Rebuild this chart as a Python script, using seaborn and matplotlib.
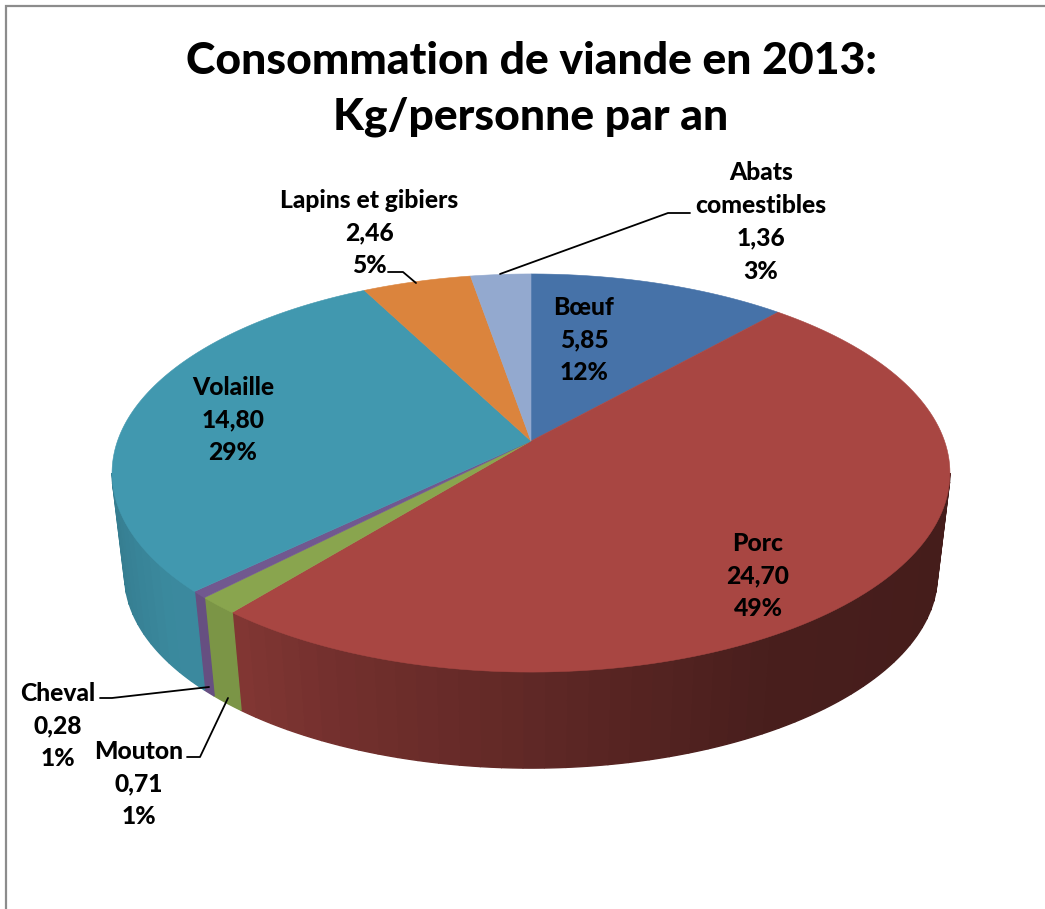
import numpy as np
import matplotlib
matplotlib.use("Agg")
import matplotlib.pyplot as plt
from matplotlib.path import Path
from matplotlib.transforms import Transform, Affine2D
import seaborn as sns

categories = ["Bœuf", "Porc", "Mouton", "Cheval", "Volaille", "Lapins et gibiers", "Abats\ncomestibles"]
values = [5.85, 24.70, 0.71, 0.28, 14.80, 2.46, 1.36]
percents = [12, 49, 1, 1, 29, 5, 3]
colors = ["#4672a8", "#a84642", "#89a54e", "#71588f", "#4198af", "#db843d", "#93a9cf"]
title = "Consommation de viande en 2013:\nKg/personne par an"

sns.set_theme(style="white")
plt.rcParams["font.family"] = ["Lato", "DejaVu Sans"]

W, H = 1045, 909
CX, CY = 531, 441
A, B, C = 193.9, 413.5, 0.1608
SCALE, DROP = 0.97, 103


def project(x, y, s=1.0, d=0.0):
    den = 1 + C * y
    return CX + s * B * x / den, CY + d - s * A * y / den


class Persp(Transform):
    input_dims = output_dims = 2

    def transform_non_affine(self, v):
        v = np.asarray(v, float)
        return np.column_stack(project(v[:, 0], v[:, 1]))

    def transform_path_non_affine(self, path):
        polys = path.transformed(Affine2D().scale(2000)).to_polygons(closed_only=True)
        v = polys[0] / 2000
        return Path(self.transform_non_affine(v), closed=True)


fig = plt.figure(figsize=(W / 100, H / 100), dpi=100, facecolor="white")
ax = fig.add_axes([0, 0, 1, 1])
wedges, _ = ax.pie(values, colors=colors, startangle=90, counterclock=False, radius=1)
ax.set_aspect("auto")
ax.set_xlim(0, W)
ax.set_ylim(H, 0)
ax.axis("off")
for w, col in zip(wedges, colors):
    w.set_transform(Persp() + ax.transData)
    w.set_zorder(3)
    w.set_edgecolor(col)
    w.set_linewidth(0.4)

# side wall of the disc, shaded strip by strip
shade_x = {
    1: ([-0.7, -0.4, 0.0, 0.5, 0.95], [0.80, 0.68, 0.57, 0.43, 0.41]),
    2: ([-1, 1], [0.9, 0.9]),
    3: ([-1, 1], [0.9, 0.9]),
    4: ([-1.0, -0.8], [0.82, 0.90]),
}
edges = np.r_[0, np.cumsum(values)] / np.sum(values) * 360
first, last = 90 + np.degrees(np.arcsin(C)), 270 - np.degrees(np.arcsin(C))
for i, col in enumerate(colors):
    if i not in shade_x:
        continue
    a0, a1 = max(edges[i], first), min(edges[i + 1], last)
    if a1 <= a0:
        continue
    n = max(2, int((a1 - a0) / 2.5))
    base = np.array(matplotlib.colors.to_rgb(col))
    for t0, t1 in zip(np.linspace(a0, a1, n)[:-1], np.linspace(a0, a1, n)[1:]):
        th = np.radians(np.linspace(t0, t1, 5))
        xu, yu = np.sin(th), np.cos(th)
        xt, yt = project(xu, yu)
        xb, yb = project(xu, yu, SCALE, DROP)
        f = np.interp(np.sin(np.radians((t0 + t1) / 2)), *shade_x[i])
        ax.fill(np.r_[xt, xb[::-1]], np.r_[yt, yb[::-1]], color=base * f, lw=1.0, zorder=2)

# chart frame
ax.plot([5.5, 5.5, W], [H, 5.5, 5.5], color="#8c8c8c", lw=1.6, zorder=1, solid_joinstyle="miter")

ax.text(531, 89, title, ha="center", va="center", fontsize=32, fontweight=900,
        color="black", linespacing=1.49, zorder=5)

# data labels: centre of the block in pixels
label_pos = [(584, 340), (758, 576), (139, 784), (58, 726), (233, 420), (369, 233), (761, 222)]
for cat, v, p, (lx, ly) in zip(categories, values, percents, label_pos):
    txt = f"{cat}\n{v:.2f}".replace(".", ",") + f"\n{p}%"
    ax.text(lx, ly, txt, ha="center", va="center", fontsize=17.7, fontweight=900,
            color="black", linespacing=1.51, zorder=5)

# leader lines
leaders = [
    ([500, 668, 690], [274, 213, 213]),
    ([388, 403, 416], [272, 272, 283]),
    ([100, 112, 209], [698, 698, 687]),
    ([187, 200, 228], [757, 757, 698]),
]
for lx, ly in leaders:
    ax.plot(lx, ly, color="black", lw=1.3, zorder=4)

fig.savefig("out.png", dpi=100)
